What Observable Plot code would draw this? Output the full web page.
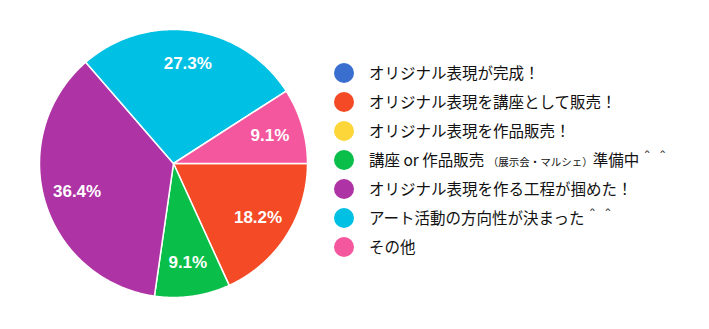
<!DOCTYPE html>
<html>
<head>
<meta charset="utf-8">
<script src="https://cdn.jsdelivr.net/npm/d3@7"></script>
<script src="https://cdn.jsdelivr.net/npm/@observablehq/plot@0.6"></script>
<style>
  html, body { margin: 0; padding: 0; background: #fff; }
  #wrap { position: relative; width: 709px; height: 329px; overflow: hidden; background: #fff; }
  #pie { position: absolute; left: 0; top: 0; }
  #legend { position: absolute; left: 334px; top: 58.5px; font-family: "Noto Sans CJK JP", "Noto Sans", sans-serif; color: #111; }
  .row { display: flex; align-items: center; height: 29px; white-space: nowrap; }
  .sw { width: 20px; height: 20px; border-radius: 50%; margin-right: 15px; flex: none; }
  .lab { font-size: 15.5px; line-height: 1; font-weight: 400; }
  .small { font-size: 10.5px; }
</style>
</head>
<body>
<div id="wrap">
  <div id="pie"></div>
  <div id="legend"></div>
</div>
<script>
const categories = [
  "オリジナル表現が完成！",
  "オリジナル表現を講座として販売！",
  "オリジナル表現を作品販売！",
  "講座 or 作品販売 <span class=\"small\">（展示会・マルシェ）</span>準備中＾＾",
  "オリジナル表現を作る工程が掴めた！",
  "アート活動の方向性が決まった＾＾",
  "その他"
];
const values = [0, 18.2, 0, 9.1, 36.4, 27.3, 9.1];
const labels = ["0%", "18.2%", "0%", "9.1%", "36.4%", "27.3%", "9.1%"];
const colors = ["#3a6fd0", "#f44a25", "#fdd73a", "#09bf49", "#ae33a4", "#00c0e4", "#f4579d"];

const data = categories.map((c, i) => ({key: i, name: c, value: values[i], label: labels[i], color: colors[i]}));

const arcs = d3.pie().sort(null).value(d => d.value)
  .startAngle(Math.PI / 2).endAngle(Math.PI / 2 + 2 * Math.PI)(data)
  .filter(a => a.data.value > 0);

// polygon vertices of each slice derived from the pie angles
const pts = [];
for (const a of arcs) {
  pts.push({key: a.data.key, color: a.data.color, x: 0, y: 0});
  const n = Math.max(2, Math.ceil((a.endAngle - a.startAngle) / (Math.PI / 360)));
  for (let k = 0; k <= n; k++) {
    const t = a.startAngle + (a.endAngle - a.startAngle) * k / n;
    pts.push({key: a.data.key, color: a.data.color, x: Math.sin(t), y: Math.cos(t)});
  }
  pts.push({key: a.data.key, color: a.data.color, x: 0, y: 0});
}
const labelPts = arcs.map(a => {
  const m = (a.startAngle + a.endAngle) / 2;
  return {x: 0.75 * Math.sin(m), y: 0.75 * Math.cos(m), label: a.data.label};
});

const chart = Plot.plot({
  width: 346,
  height: 329,
  margin: 0,
  x: {domain: [-1, 1], range: [39, 307], axis: null},
  y: {domain: [-1, 1], range: [297, 29], axis: null},
  marks: [
    Plot.line(pts, {x: "x", y: "y", z: "key", fill: "color", stroke: "#fff", strokeWidth: 1.5, curve: "linear-closed"}),
    Plot.text(labelPts, {x: "x", y: "y", text: "label", fill: "#fff", fontSize: 17, fontWeight: "bold", fontFamily: "Liberation Sans, Arial, sans-serif"})
  ]
});
document.getElementById("pie").appendChild(chart);

const legend = document.getElementById("legend");
data.forEach(d => {
  const row = document.createElement("div");
  row.className = "row";
  row.innerHTML = `<span class="sw" style="background:${d.color}"></span><span class="lab">${d.name}</span>`;
  legend.appendChild(row);
});
</script>
</body>
</html>
